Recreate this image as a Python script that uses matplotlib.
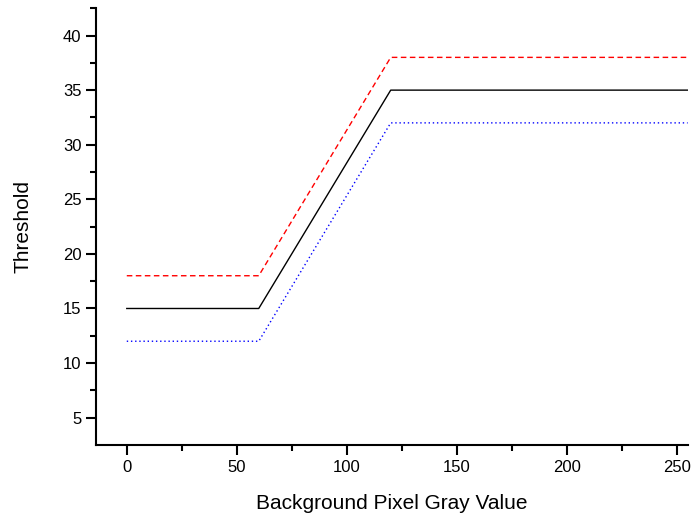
import numpy as np
import matplotlib.pyplot as plt

plt.rcParams['font.family'] = ['Liberation Sans', 'DejaVu Sans']

gray = [0, 60, 120, 255]
upper = [18, 18, 38, 38]
thresh = [15, 15, 35, 35]
lower = [12, 12, 32, 32]

fig = plt.figure(figsize=(6.92, 5.15), dpi=100)
ax = fig.add_axes([0.1387, 0.136, 0.855, 0.848])

ax.plot(gray, upper, color='red', linestyle=(0, (4, 2.5)), linewidth=1)
ax.plot(gray, thresh, color='black', linestyle='-', linewidth=1)
ax.plot(gray, lower, color='blue', linestyle=(0, (1, 2)), linewidth=1)

ax.set_xlim(-14, 255)
ax.set_ylim(2.5, 42.5)
ax.set_xticks([0, 50, 100, 150, 200, 250])
ax.set_xticks(np.arange(25, 255, 50), minor=True)
ax.set_yticks([5, 10, 15, 20, 25, 30, 35, 40])
ax.set_yticks(np.arange(7.5, 42.6, 5), minor=True)

for s in ['top', 'right']:
    ax.spines[s].set_visible(False)
for s in ['left', 'bottom']:
    ax.spines[s].set_linewidth(1.5)

ax.tick_params(which='major', direction='out', length=7, width=1.5, labelsize=12)
ax.tick_params(which='minor', direction='out', length=4, width=1.5)

ax.set_xlabel('Background Pixel Gray Value', fontsize=15, labelpad=14)
ax.set_ylabel('Threshold', fontsize=15, labelpad=22)

fig.savefig('out.png', dpi=100)
